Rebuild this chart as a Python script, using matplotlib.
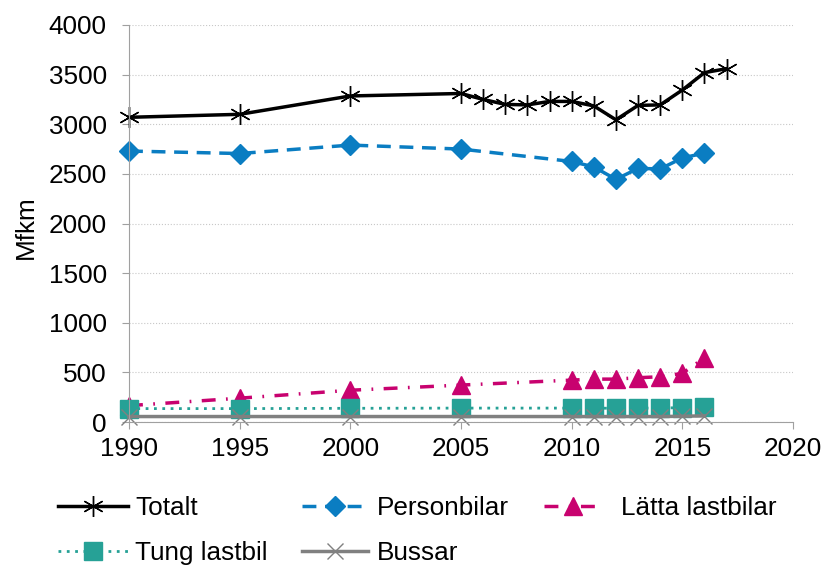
import matplotlib.pyplot as plt

plt.rcParams['font.family'] = ['Liberation Sans', 'DejaVu Sans']

years_tot = [1990, 1995, 2000, 2005, 2006, 2007, 2008, 2009, 2010, 2011, 2012, 2013, 2014, 2015, 2016, 2017]
totalt = [3070, 3100, 3285, 3310, 3250, 3200, 3195, 3230, 3230, 3185, 3045, 3190, 3195, 3345, 3520, 3560]

years = [1990, 1995, 2000, 2005, 2010, 2011, 2012, 2013, 2014, 2015, 2016]
personbilar = [2730, 2705, 2790, 2750, 2625, 2570, 2445, 2555, 2550, 2660, 2710]
latta = [165, 240, 320, 372, 422, 432, 432, 446, 456, 490, 647]
tung = [135, 135, 138, 140, 140, 140, 138, 140, 140, 145, 150]
bussar = [55, 55, 55, 55, 55, 55, 55, 55, 55, 58, 62]

fig = plt.figure(figsize=(8.32, 5.66), dpi=100)
ax = fig.add_axes([129 / 832, 1 - 422 / 566, 664 / 832, 397 / 566])

h1, = ax.plot(years_tot, totalt, color='black', lw=2.5, marker=(6, 2, 0), ms=15, mew=1.0, clip_on=False)
h2, = ax.plot(years, personbilar, color='#0A7DC2', lw=2.5, ls=(0, (4, 2.5)), marker='D', ms=10, clip_on=False)
h3, = ax.plot(years, latta, color='#C8026F', lw=2.5, ls=(0, (4, 3, 0.5, 3)), marker='^', ms=13, clip_on=False)
h4, = ax.plot(years, tung, color='#26A196', lw=2, ls=(0, (1, 2)), marker='s', ms=13, clip_on=False)
h5, = ax.plot(years, bussar, color='#808080', lw=2.5, marker='x', ms=12, mew=1.0, clip_on=False)

ax.set_xlim(1990, 2020)
ax.set_ylim(0, 4000)
ax.set_xticks(range(1990, 2021, 5))
ax.set_yticks(range(0, 4001, 500))
ax.tick_params(labelsize=18.8, color='#A0A0A0', length=5)
ax.tick_params(axis='y', pad=11)
ax.tick_params(axis='x', pad=6)
ax.set_ylabel('Mfkm', fontsize=18.8)
ax.yaxis.set_label_coords(-0.137, 0.49)
ax.grid(axis='y', color='#C8C8C8', ls=':', lw=0.8)
ax.set_axisbelow(True)
for s in ['top', 'right']:
    ax.spines[s].set_visible(False)
for s in ['left', 'bottom']:
    ax.spines[s].set_color('#A0A0A0')

# one small legend per entry so the columns sit where excel put them
entries = [(h1, 'Totalt', 58, 508, 2.69, 0.27),
           (h2, 'Personbilar', 302, 508, 2.54, 0.34),
           (h3, 'Lätta lastbilar', 544, 508, 2.2, 0.76),
           (h4, 'Tung lastbil', 58, 553, 2.69, 0.27),
           (h5, 'Bussar', 302, 553, 2.54, 0.34)]
for h, lab, x, y, hl, tp in entries:
    fig.legend([h], [lab], loc='center left', bbox_to_anchor=(x / 832, 1 - y / 566),
               frameon=False, fontsize=18.8,
               handlelength=hl, handletextpad=tp, borderpad=0, borderaxespad=0)

fig.savefig('out.png', dpi=100)
